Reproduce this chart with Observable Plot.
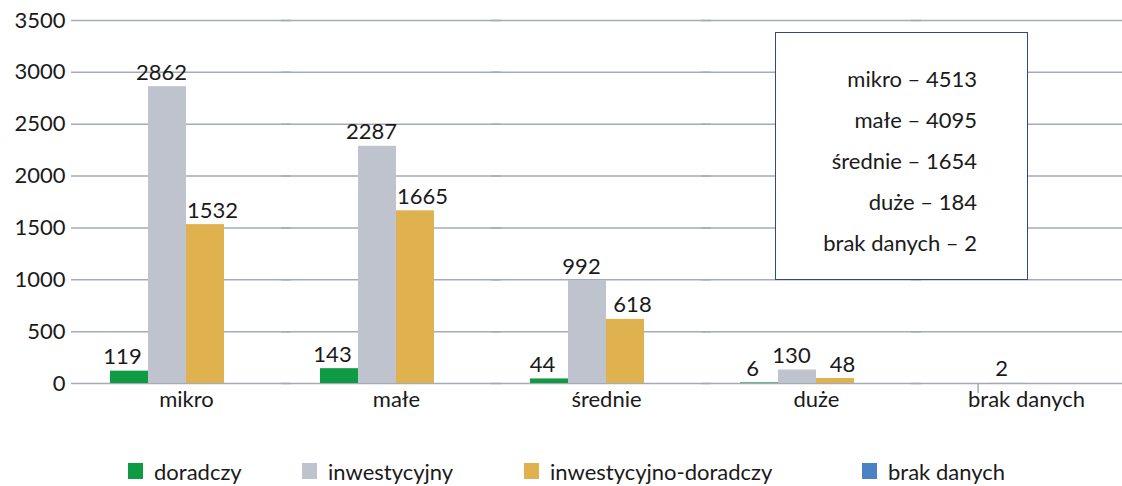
<!DOCTYPE html>
<html><head><meta charset="utf-8">
<script src="https://cdn.jsdelivr.net/npm/d3@7"></script>
<script src="https://cdn.jsdelivr.net/npm/@observablehq/plot@0.6"></script>
<style>
  html,body{margin:0;padding:0;background:#fff;}
  body{width:1122px;height:486px;overflow:hidden;font-family:Lato,"Noto Sans",sans-serif;color:#1a1a1a;position:relative;}
  #chart svg{display:block;overflow:visible;}
  #legend{position:absolute;left:0;top:453px;width:1122px;height:36px;font-size:22px;}
  #legend .it{position:absolute;top:0;height:36px;display:flex;align-items:center;gap:11px;white-space:nowrap;}
  #legend .sw{width:15px;height:16px;display:inline-block;}
  #box{position:absolute;left:775px;top:32px;width:253px;height:248px;box-sizing:border-box;border:1.5px solid #2f4b7c;background:#fff;padding-top:25px;padding-right:50px;text-align:right;font-size:22px;line-height:41px;}
</style>
</head><body>
<div id="chart"></div>
<div id="box"></div>
<div id="legend"></div>
<script>
const categories = ["mikro", "małe", "średnie", "duże", "brak danych"];
const series = ["doradczy", "inwestycyjny", "inwestycyjno-doradczy", "brak danych"];
const doradczy = [119, 143, 44, 6, null];
const inwestycyjny = [2862, 2287, 992, 130, 2];
const inwestycyjnoDoradczy = [1532, 1665, 618, 48, null];
const brakDanych = [null, null, null, null, null];
const yTicks = [0, 500, 1000, 1500, 2000, 2500, 3000, 3500];

const colors = ["#0f9b43", "#bfc3cd", "#e0b24f", "#4a82c4"];
const labelDx = [-7, -6, 7, 0];
const legendLeft = [128, 302, 524, 862];

const seriesValues = [doradczy, inwestycyjny, inwestycyjnoDoradczy, brakDanych];
const rows = [];
categories.forEach((c, ci) => series.forEach((s, si) => {
  const v = seriesValues[si][ci];
  if (v != null) rows.push({category: c, series: s, value: v});
}));

const W = 1122, H = 450, mT = 20, mB = 67, mL = 79, mR = -11;
const plotH = H - mT - mB;
const facetW = (W - mL - mR) / categories.length;
const grid = "#a4aab8";

const marks = [
  Plot.ruleY(yTicks, {y: d => d, stroke: grid, strokeWidth: 1.5, insetLeft: -10}),
  Plot.barY(rows, {fx: "category", x: "series", y: "value", fill: "series"}),
  ...series.map((s, si) => Plot.text(rows.filter(d => d.series === s), {
    fx: "category", x: "series", y: "value", text: d => String(d.value),
    lineAnchor: "bottom", dy: -7, dx: labelDx[si], fontSize: 22, fill: "#1a1a1a"
  })),
  Plot.ruleX([categories[0]], {fx: d => d, dx: -facetW / 2, stroke: grid, strokeWidth: 1.5}),
  Plot.ruleX(categories, {fx: d => d, dx: -facetW / 2, insetTop: plotH, insetBottom: -10, stroke: grid, strokeWidth: 1.5}),
  Plot.text(categories, {fx: d => d, text: d => d, frameAnchor: "bottom", dy: 23, fontSize: 22, fill: "#1a1a1a"})
];

const chart = Plot.plot({
  width: W, height: H,
  marginTop: mT, marginBottom: mB, marginLeft: mL, marginRight: mR,
  style: {fontFamily: "Lato, 'Noto Sans', sans-serif", fontSize: "22px", color: "#1a1a1a", background: "transparent"},
  fx: {domain: categories, padding: 0, axis: null},
  x: {domain: series, paddingInner: 0, paddingOuter: 0.75, axis: null},
  y: {domain: [0, 3500], ticks: yTicks, tickSize: 0, tickPadding: 16, label: null, tickFormat: d => String(d)},
  color: {domain: series, range: colors},
  marks
});
document.getElementById("chart").appendChild(chart);

// totals box
const box = document.getElementById("box");
categories.forEach((c, ci) => {
  const total = seriesValues.reduce((a, arr) => a + (arr[ci] || 0), 0);
  const div = document.createElement("div");
  div.textContent = `${c} – ${total}`;
  box.appendChild(div);
});

// legend
const legend = document.getElementById("legend");
series.forEach((s, si) => {
  const it = document.createElement("div");
  it.className = "it";
  it.style.left = legendLeft[si] + "px";
  const sw = document.createElement("span");
  sw.className = "sw";
  sw.style.background = colors[si];
  const t = document.createElement("span");
  t.textContent = s;
  it.appendChild(sw); it.appendChild(t);
  legend.appendChild(it);
});
</script>
</body></html>
